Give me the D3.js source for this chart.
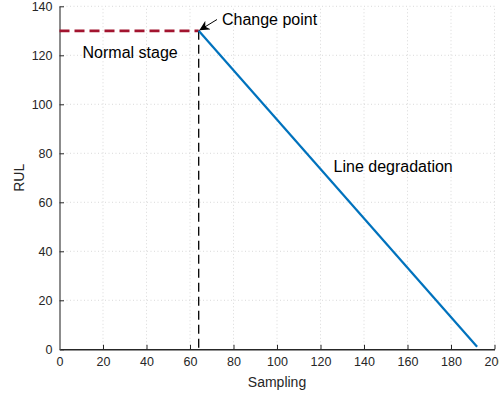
<!DOCTYPE html>
<html>
<head>
<meta charset="utf-8">
<script src="https://cdn.jsdelivr.net/npm/d3@7"></script>
<style>
  body { margin: 0; background: #fff; }
  svg { display: block; font-family: "Liberation Sans", Arial, Helvetica, sans-serif; }
</style>
</head>
<body>
<svg id="chart" width="499" height="399"></svg>
<script>
// data
const xTicks = [0, 20, 40, 60, 80, 100, 120, 140, 160, 180, 200];
const yTicks = [0, 20, 40, 60, 80, 100, 120, 140];
const normalStage = [[0, 130], [64, 130]];
const changeLine = [[64, 130], [64, 0]];
const degradation = [[64, 130], [192, 1]];
const notes = [
  {text: 'Normal stage', x: 10.6, y: 119},
  {text: 'Change point', x: 74.7, y: 132.4},
  {text: 'Line degradation', x: 126, y: 72.5}
];
const arrowFrom = [72.4, 134.6];
const arrowTo = [64.3, 130.2];

const width = 499, height = 399;
const margin = {top: 6.3, right: 4.5, bottom: 49.7, left: 59.5};

const svg = d3.select('#chart');

const x = d3.scaleLinear()
  .domain([0, 200])
  .range([margin.left, width - margin.right]);
const y = d3.scaleLinear()
  .domain([0, 140])
  .range([height - margin.bottom, margin.top]);

// grid
const grid = svg.append('g')
  .attr('stroke', '#cfcfcf')
  .attr('stroke-width', 0.8)
  .attr('stroke-dasharray', '1,2.5');
grid.append('g').selectAll('line')
  .data(xTicks.slice(1))
  .join('line')
  .attr('x1', d => x(d)).attr('x2', d => x(d))
  .attr('y1', y(0)).attr('y2', y(140));
grid.append('g').selectAll('line')
  .data(yTicks.slice(1))
  .join('line')
  .attr('y1', d => y(d)).attr('y2', d => y(d))
  .attr('x1', x(0)).attr('x2', x(200));

// axes
const xAxis = svg.append('g')
  .attr('transform', `translate(0,${y(0)})`)
  .call(d3.axisBottom(x).tickValues(xTicks).tickSize(-4.5).tickPadding(8).tickSizeOuter(0));
xAxis.select('.domain').attr('stroke', '#262626').attr('stroke-width', 1.4);
xAxis.selectAll('.tick line').attr('stroke', '#262626');
xAxis.selectAll('.tick text')
  .attr('fill', '#262626')
  .style('font-size', '12.5px');

const yAxis = svg.append('g')
  .attr('transform', `translate(${x(0)},0)`)
  .call(d3.axisLeft(y).tickValues(yTicks).tickSize(-4.5).tickPadding(7).tickSizeOuter(0));
yAxis.select('.domain').attr('stroke', '#8c8c8c').attr('stroke-width', 2);
yAxis.selectAll('.tick line').attr('stroke', '#262626');
yAxis.selectAll('.tick text')
  .attr('fill', '#262626')
  .style('font-size', '12.5px');

// axis labels
svg.append('text')
  .attr('x', x(100))
  .attr('y', 387)
  .attr('text-anchor', 'middle')
  .attr('fill', '#262626')
  .style('font-size', '14px')
  .text('Sampling');

svg.append('text')
  .attr('transform', `translate(23.5,${(y(0) + y(140)) / 2}) rotate(-90)`)
  .attr('text-anchor', 'middle')
  .attr('fill', '#262626')
  .style('font-size', '14px')
  .text('RUL');

const line = d3.line()
  .x(d => x(d[0]))
  .y(d => y(d[1]));

// lines
svg.append('path')
  .datum(normalStage)
  .attr('fill', 'none')
  .attr('stroke', '#A2142F')
  .attr('stroke-width', 2.8)
  .attr('stroke-dasharray', '10,5')
  .attr('d', line);

svg.append('path')
  .datum(changeLine)
  .attr('fill', 'none')
  .attr('stroke', '#000')
  .attr('stroke-width', 1.3)
  .attr('stroke-dasharray', '9,5')
  .attr('d', line);

svg.append('path')
  .datum(degradation)
  .attr('fill', 'none')
  .attr('stroke', '#0072BD')
  .attr('stroke-width', 2.2)
  .attr('d', line);

// arrow
svg.append('defs').append('marker')
  .attr('id', 'head')
  .attr('viewBox', '0 0 10 10')
  .attr('refX', 10).attr('refY', 5)
  .attr('markerWidth', 10).attr('markerHeight', 10)
  .attr('markerUnits', 'userSpaceOnUse')
  .attr('orient', 'auto')
  .append('path')
  .attr('d', 'M0,0 L10,5 L0,10 L3,5 Z')
  .attr('fill', '#000');

svg.append('line')
  .attr('x1', x(arrowFrom[0])).attr('y1', y(arrowFrom[1]))
  .attr('x2', x(arrowTo[0])).attr('y2', y(arrowTo[1]))
  .attr('stroke', '#000')
  .attr('stroke-width', 1)
  .attr('marker-end', 'url(#head)');

// annotations
svg.append('g').selectAll('text')
  .data(notes)
  .join('text')
  .attr('x', d => x(d.x))
  .attr('y', d => y(d.y))
  .attr('fill', '#000')
  .style('font-size', '16px')
  .text(d => d.text);
</script>
</body>
</html>
